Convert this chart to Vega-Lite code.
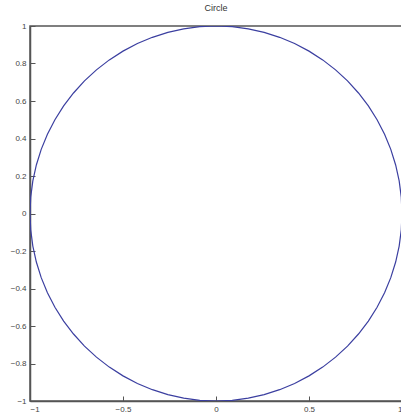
{
  "$schema": "https://vega.github.io/schema/vega-lite/v6.json",
  "autosize": "none",
  "padding": {"left": 30, "top": 26, "right": 0, "bottom": 18},
  "width": 372,
  "height": 375,
  "background": "white",
  "title": {"text": "Circle", "fontSize": 9, "fontWeight": "normal", "color": "#333", "font": "Liberation Sans", "offset": 9},
  "config": {
    "view": {"stroke": "#555", "strokeWidth": 1.5},
    "axis": {"grid": false, "domainColor": "#555", "domainWidth": 1.5, "tickColor": "#555", "tickSize": -5, "labelFontSize": 8, "labelColor": "#444", "labelFont": "Liberation Sans", "labelPadding": 9, "title": null}
  },
  "data": {"values": [
    {"a": 0, "x": 1, "y": 0}, {"a": 1, "x": 0.9962, "y": 0.0872}, {"a": 2, "x": 0.9848, "y": 0.1736}, {"a": 3, "x": 0.9659, "y": 0.2588}, {"a": 4, "x": 0.9397, "y": 0.342}, {"a": 5, "x": 0.9063, "y": 0.4226}, {"a": 6, "x": 0.866, "y": 0.5}, {"a": 7, "x": 0.8192, "y": 0.5736}, {"a": 8, "x": 0.766, "y": 0.6428}, {"a": 9, "x": 0.7071, "y": 0.7071}, {"a": 10, "x": 0.6428, "y": 0.766}, {"a": 11, "x": 0.5736, "y": 0.8192}, {"a": 12, "x": 0.5, "y": 0.866}, {"a": 13, "x": 0.4226, "y": 0.9063}, {"a": 14, "x": 0.342, "y": 0.9397}, {"a": 15, "x": 0.2588, "y": 0.9659}, {"a": 16, "x": 0.1736, "y": 0.9848}, {"a": 17, "x": 0.0872, "y": 0.9962},
    {"a": 18, "x": 0, "y": 1}, {"a": 19, "x": -0.0872, "y": 0.9962}, {"a": 20, "x": -0.1736, "y": 0.9848}, {"a": 21, "x": -0.2588, "y": 0.9659}, {"a": 22, "x": -0.342, "y": 0.9397}, {"a": 23, "x": -0.4226, "y": 0.9063}, {"a": 24, "x": -0.5, "y": 0.866}, {"a": 25, "x": -0.5736, "y": 0.8192}, {"a": 26, "x": -0.6428, "y": 0.766}, {"a": 27, "x": -0.7071, "y": 0.7071}, {"a": 28, "x": -0.766, "y": 0.6428}, {"a": 29, "x": -0.8192, "y": 0.5736}, {"a": 30, "x": -0.866, "y": 0.5}, {"a": 31, "x": -0.9063, "y": 0.4226}, {"a": 32, "x": -0.9397, "y": 0.342}, {"a": 33, "x": -0.9659, "y": 0.2588}, {"a": 34, "x": -0.9848, "y": 0.1736}, {"a": 35, "x": -0.9962, "y": 0.0872},
    {"a": 36, "x": -1, "y": 0}, {"a": 37, "x": -0.9962, "y": -0.0872}, {"a": 38, "x": -0.9848, "y": -0.1736}, {"a": 39, "x": -0.9659, "y": -0.2588}, {"a": 40, "x": -0.9397, "y": -0.342}, {"a": 41, "x": -0.9063, "y": -0.4226}, {"a": 42, "x": -0.866, "y": -0.5}, {"a": 43, "x": -0.8192, "y": -0.5736}, {"a": 44, "x": -0.766, "y": -0.6428}, {"a": 45, "x": -0.7071, "y": -0.7071}, {"a": 46, "x": -0.6428, "y": -0.766}, {"a": 47, "x": -0.5736, "y": -0.8192}, {"a": 48, "x": -0.5, "y": -0.866}, {"a": 49, "x": -0.4226, "y": -0.9063}, {"a": 50, "x": -0.342, "y": -0.9397}, {"a": 51, "x": -0.2588, "y": -0.9659}, {"a": 52, "x": -0.1736, "y": -0.9848}, {"a": 53, "x": -0.0872, "y": -0.9962},
    {"a": 54, "x": 0, "y": -1}, {"a": 55, "x": 0.0872, "y": -0.9962}, {"a": 56, "x": 0.1736, "y": -0.9848}, {"a": 57, "x": 0.2588, "y": -0.9659}, {"a": 58, "x": 0.342, "y": -0.9397}, {"a": 59, "x": 0.4226, "y": -0.9063}, {"a": 60, "x": 0.5, "y": -0.866}, {"a": 61, "x": 0.5736, "y": -0.8192}, {"a": 62, "x": 0.6428, "y": -0.766}, {"a": 63, "x": 0.7071, "y": -0.7071}, {"a": 64, "x": 0.766, "y": -0.6428}, {"a": 65, "x": 0.8192, "y": -0.5736}, {"a": 66, "x": 0.866, "y": -0.5}, {"a": 67, "x": 0.9063, "y": -0.4226}, {"a": 68, "x": 0.9397, "y": -0.342}, {"a": 69, "x": 0.9659, "y": -0.2588}, {"a": 70, "x": 0.9848, "y": -0.1736}, {"a": 71, "x": 0.9962, "y": -0.0872},
    {"a": 72, "x": 1, "y": 0}
  ]},
  "mark": {"type": "line", "color": "#3b3fa0", "strokeWidth": 1.2, "clip": true},
  "encoding": {
    "x": {"field": "x", "type": "quantitative", "scale": {"domain": [-1, 1], "nice": false, "zero": false}, "axis": {"values": [-1, -0.5, 0, 0.5, 1], "format": "~g"}},
    "y": {"field": "y", "type": "quantitative", "scale": {"domain": [-1, 1], "nice": false, "zero": false}, "axis": {"values": [-1, -0.8, -0.6, -0.4, -0.2, 0, 0.2, 0.4, 0.6, 0.8, 1], "format": "~g"}},
    "order": {"field": "a", "type": "quantitative"}
  }
}
